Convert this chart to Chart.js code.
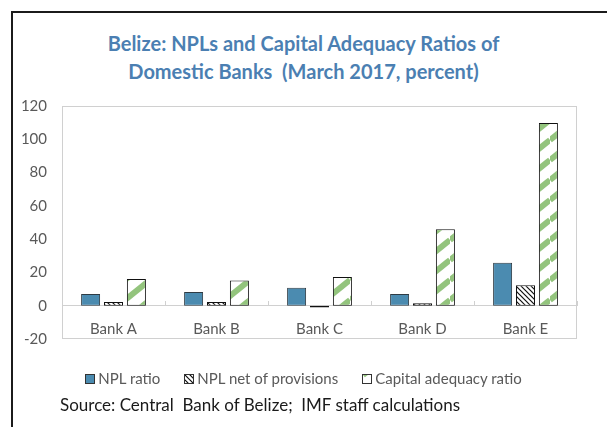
<!DOCTYPE html>
<html>
<head>
<meta charset="utf-8">
<title>Belize: NPLs and Capital Adequacy Ratios</title>
<script src="https://cdn.jsdelivr.net/npm/chart.js@4.4.1/dist/chart.umd.min.js"></script>
<style>
  html, body { margin: 0; padding: 0; background: #fff; }
  body { width: 607px; height: 427px; position: relative; overflow: hidden; font-family: Lato, "Open Sans", sans-serif; }
  #frame  { position: absolute; left: 11px; top: 11px; width: 700px; height: 500px;
            border-top: 2px solid #1b1b1b; border-left: 2px solid #1b1b1b; }
  #title  { position: absolute; left: 0; top: 29px; width: 607px; text-align: center;
            color: #4b7fb2; font-weight: bold; font-size: 20px; line-height: 28px; white-space: pre; }
  #chart  { position: absolute; left: 0; top: 0; }
  #legend { position: absolute; left: 0; top: 370px; width: 607px; display: flex; justify-content: center;
            gap: 24px; font-size: 15px; line-height: 17px; color: #595959; }
  .item   { display: flex; align-items: center; }
  .swatch { width: 8px; height: 8px; border: 1px solid #333; margin-right: 3px; }
  #source { position: absolute; left: 60px; top: 394px; font-size: 17px; color: #1a1a1a; white-space: pre; }
</style>
</head>
<body>
<div id="frame"></div>
<div id="title">Belize: NPLs and Capital Adequacy Ratios of
Domestic Banks  (March 2017, percent)</div>
<canvas id="chart" width="607" height="427"></canvas>
<div id="legend"></div>
<div id="source">Source: Central  Bank of Belize;  IMF staff calculations</div>

<script>
// ── Data ──────────────────────────────────────────────────────
const banks       = ['Bank A', 'Bank B', 'Bank C', 'Bank D', 'Bank E'];
const seriesNames = ['NPL ratio', 'NPL net of provisions', 'Capital adequacy ratio'];
const nplRatio    = [7.0, 8.2, 10.8, 7.0, 25.8];
const nplNet      = [2.2, 2.2, -1.0, 1.5, 12.3];
const capAdequacy = [16.0, 15.2, 17.2, 46.0, 109.8];
const yTicks      = [-20, 0, 20, 40, 60, 80, 100, 120];

// ── Fill patterns ─────────────────────────────────────────────
function stripeTile() {
    const c = document.createElement('canvas');
    c.width = 25; c.height = 20;
    const g = c.getContext('2d');
    g.fillStyle = '#fff';
    g.fillRect(0, 0, 25, 20);
    g.strokeStyle = '#93c47d';
    g.lineWidth = 6;
    for (let k = -1; k <= 1; k++) {
        g.beginPath();
        g.moveTo(0, 20 + k * 20);
        g.lineTo(25, k * 20);
        g.stroke();
    }
    return c;
}

function hatchTile() {
    const c = document.createElement('canvas');
    c.width = 5; c.height = 5;
    const g = c.getContext('2d');
    g.fillStyle = '#fff';
    g.fillRect(0, 0, 5, 5);
    g.strokeStyle = '#111';
    g.lineWidth = 1.2;
    [[-5, 0], [0, 0], [0, -5]].forEach(([dx, dy]) => {
        g.beginPath();
        g.moveTo(dx, dy);
        g.lineTo(dx + 10, dy + 10);
        g.stroke();
    });
    return c;
}

const ctx     = document.getElementById('chart').getContext('2d');
const stripes = stripeTile();
const hatch   = hatchTile();

const fills   = ['#4b8bb0', ctx.createPattern(hatch, 'repeat'), ctx.createPattern(stripes, 'repeat')];
const borders = ['#2e3b44', '#111', '#111'];

// ── Light grey box round the plot area ────────────────────────
const plotFrame = {
    id: 'plotFrame',
    beforeDatasetsDraw(chart) {
        const { ctx, chartArea: a } = chart;
        ctx.save();
        ctx.strokeStyle = '#d0d0d0';
        ctx.lineWidth = 1;
        ctx.strokeRect(a.left + 0.5, a.top + 0.5, a.right - a.left - 1, a.bottom - a.top - 1);
        ctx.restore();
    }
};

const axisFont = { family: 'Lato', size: 15 };

new Chart(ctx, {
    type: 'bar',
    data: {
        labels: banks,
        datasets: [nplRatio, nplNet, capAdequacy].map((data, i) => ({
            label: seriesNames[i],
            data,
            backgroundColor: fills[i],
            borderColor: borders[i],
            borderWidth: 1,
            borderSkipped: false,
            barPercentage: 0.83,
            categoryPercentage: 0.667
        }))
    },
    options: {
        responsive: false,
        animation: false,
        layout: { padding: { left: 0, top: 106, right: 30, bottom: 88 } },
        plugins: { legend: { display: false }, tooltip: { enabled: false } },
        scales: {
            x: {
                position: { y: 0 },
                grid: { drawOnChartArea: false, drawTicks: true, tickLength: -5, color: '#d0d0d0', offset: true },
                border: { display: true, color: '#d0d0d0' },
                ticks: { color: '#595959', font: axisFont, padding: 19, maxRotation: 0 },
                afterFit: s => { s.height = 0; }
            },
            y: {
                min: -20,
                max: 120,
                grid: { display: false, drawTicks: false },
                border: { display: false },
                ticks: { color: '#595959', font: axisFont, padding: 15 },
                afterBuildTicks: s => { s.ticks = yTicks.map(v => ({ value: v })); },
                afterFit: s => { s.width = 62; }
            }
        }
    },
    plugins: [plotFrame]
});

// ── Legend ────────────────────────────────────────────────────
const legendFills = [
    'background:#4b8bb0',
    `background-image:url(${hatch.toDataURL()})`,
    `background-image:url(${stripes.toDataURL()})`
];
document.getElementById('legend').innerHTML = seriesNames.map((name, i) =>
    `<div class="item"><span class="swatch" style="${legendFills[i]}"></span>${name}</div>`
).join('');
</script>
</body>
</html>
